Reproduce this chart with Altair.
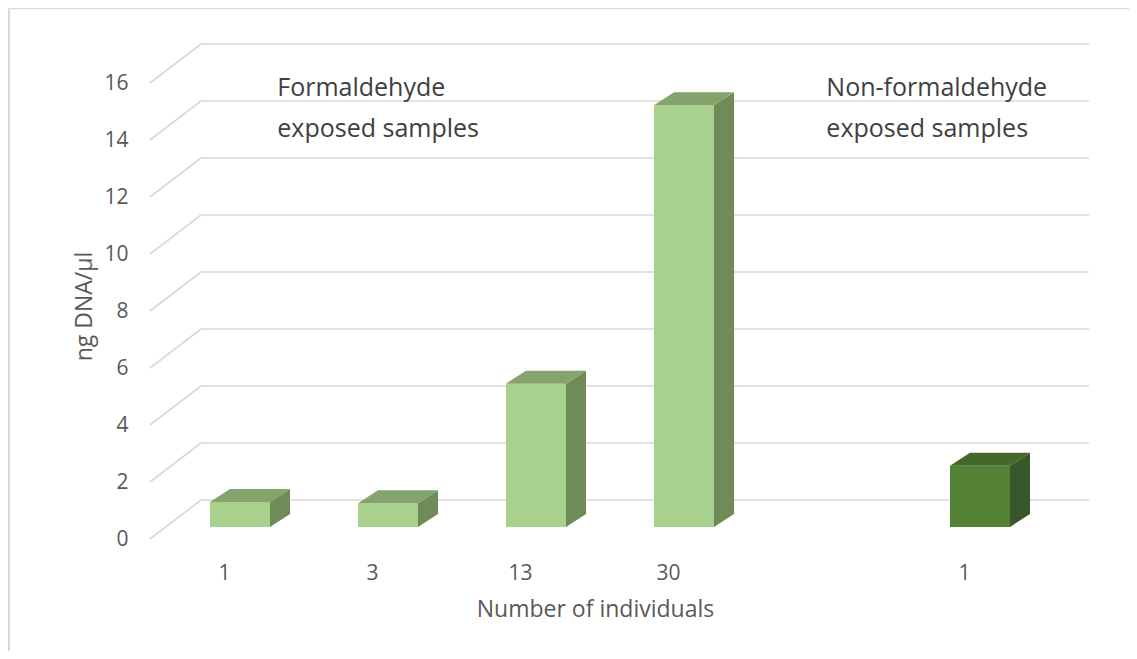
import json
import altair as alt
import pandas as pd

# ---- data ----
categories = ["1", "3", "13", "30", "", "1"]
groups = ["Formaldehyde", "Formaldehyde", "Formaldehyde", "Formaldehyde", "", "Non-formaldehyde"]
values = [0.88, 0.83, 5.03, 14.8, None, 2.15]
y_ticks = [0, 2, 4, 6, 8, 10, 12, 14, 16]
annotation_left = ["Formaldehyde", "exposed samples"]
annotation_right = ["Non-formaldehyde", "exposed samples"]

# ---- pseudo-3D geometry (slot units on x, value units on y) ----
PX_X, PX_Y = 148.0, 28.5
N = len(categories)
DXW, DYW = 51 / PX_X, 39 / PX_Y          # wall depth
OFF, HW = 90 / PX_X, 30 / PX_X            # bar centre offset, half width
BASE = 12 / PX_Y                          # bar front face base
DXB, DYB = 20 / PX_X, 13 / PX_Y           # bar depth
XMAX = N + DXW
W = round(XMAX * PX_X)
H = 496
YMAX = H / PX_Y
PAD_L, PAD_T, PAD_R, PAD_B = 142, 35, 40, 112

FONT = "Open Sans"
GRID = "#D9D9D9"
TXT = "#595959"

# gridlines
g_rows = []
for t in y_ticks:
    g_rows.append({"x": 0, "x2": DXW, "y": t, "y2": t + DYW})
    g_rows.append({"x": DXW, "x2": N + DXW, "y": t + DYW, "y2": t + DYW})
grid_df = pd.DataFrame(g_rows)

front, side, top = [], [], []
for i, (c, g, v) in enumerate(zip(categories, groups, values)):
    if v is None:
        continue
    l, r = i + OFF - HW, i + OFF + HW
    front.append({"bar": i, "grp": g, "x": l, "x2": r, "y": BASE, "y2": BASE + v})
    side.append({"bar": i, "grp": g, "x": r, "y": BASE, "y2": BASE + v})
    side.append({"bar": i, "grp": g, "x": r + DXB, "y": BASE + DYB, "y2": BASE + v + DYB})
    top.append({"bar": i, "grp": g, "y": BASE + v, "x": l, "x2": r})
    top.append({"bar": i, "grp": g, "y": BASE + v + DYB, "x": l + DXB, "x2": r + DXB})
front_df, side_df, top_df = pd.DataFrame(front), pd.DataFrame(side), pd.DataFrame(top)

ann = []
for k, line in enumerate(annotation_left):
    ann.append({"x": 0.86, "y": 15.82 - k * 1.43, "text": line})
for k, line in enumerate(annotation_right):
    ann.append({"x": 4.57, "y": 15.82 - k * 1.43, "text": line})
ann_df = pd.DataFrame(ann)

grp_dom = ["Formaldehyde", "Non-formaldehyde"]

xscale = alt.Scale(domain=[0, XMAX], nice=False, zero=False)
yscale = alt.Scale(domain=[0, YMAX], nice=False, zero=False)

label_expr = "%s[floor(datum.value)]" % json.dumps(categories)
xaxis = alt.Axis(values=[i + 0.5 for i in range(N)], labelExpr=label_expr, grid=False,
                 domain=False, ticks=False, labelPadding=23, labelFontSize=21,
                 labelColor=TXT, labelFont=FONT, title="Number of individuals",
                 titleFont=FONT, titleFontSize=23, titleFontWeight="normal",
                 titleColor=TXT, titleX=445, titleY=70, titleAlign="center",
                 titleBaseline="middle")
yaxis = alt.Axis(values=y_ticks, grid=False, domain=False, ticks=False,
                 labelPadding=22, labelFontSize=21, labelColor=TXT, labelFont=FONT,
                 title="ng DNA/µl", titleFont=FONT, titleFontSize=23,
                 titleFontWeight="normal", titleColor=TXT, titleX=-66, titleY=263,
                 titleBaseline="middle")

grid = alt.Chart(grid_df).mark_rule(color=GRID, strokeWidth=1.6).encode(
    x=alt.X("x:Q", scale=xscale, axis=xaxis),
    x2="x2:Q",
    y=alt.Y("y:Q", scale=yscale, axis=yaxis),
    y2="y2:Q",
)

front_l = alt.Chart(front_df).mark_rect().encode(
    x="x:Q", x2="x2:Q", y="y:Q", y2="y2:Q",
    color=alt.Color("grp:N", scale=alt.Scale(domain=grp_dom, range=["#A9D18E", "#548235"]), legend=None),
)
side_l = alt.Chart(side_df).mark_area().encode(
    x="x:Q", y="y:Q", y2="y2:Q", detail="bar:N",
    color=alt.Color("grp:N", scale=alt.Scale(domain=grp_dom, range=["#6E8B58", "#38572A"]), legend=None),
)
top_l = alt.Chart(top_df).mark_area(orient="horizontal").encode(
    y="y:Q", x="x:Q", x2="x2:Q", detail="bar:N",
    color=alt.Color("grp:N", scale=alt.Scale(domain=grp_dom, range=["#84A46C", "#436829"]), legend=None),
)
text_l = alt.Chart(ann_df).mark_text(align="left", baseline="middle", font=FONT,
                                     fontSize=25, color="#404040").encode(
    x="x:Q", y="y:Q", text="text:N")

frame_df = pd.DataFrame([{"k": 0}])
frame_top = alt.Chart(frame_df).mark_rule(color=GRID, strokeWidth=1.5).encode(
    x=alt.value(-PAD_L + 1), x2=alt.value(W + PAD_R), y=alt.value(-PAD_T + 0.5))
frame_left = alt.Chart(frame_df).mark_rule(color=GRID, strokeWidth=2).encode(
    x=alt.value(-PAD_L + 1), y=alt.value(-PAD_T + 0.5), y2=alt.value(H + PAD_B))

chart = alt.layer(grid, front_l, side_l, top_l, text_l, frame_top, frame_left).properties(
    width=W, height=H,
    padding={"left": PAD_L, "top": PAD_T, "right": PAD_R, "bottom": PAD_B},
    autosize=alt.AutoSizeParams(type="none"),
    background="white",
).resolve_scale(color="independent").configure_view(stroke=None)

chart.save("out.html", embed_options={"renderer": "svg", "actions": False})
